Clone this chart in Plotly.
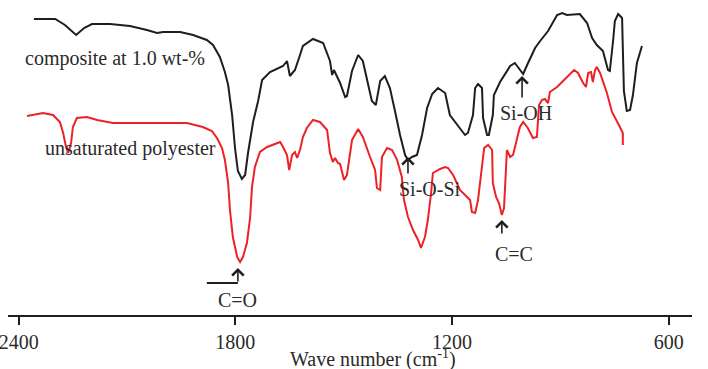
import plotly.graph_objects as go

# ---- data (wavenumber in cm-1, transmittance in arbitrary units) ----
comp_wn = [2358, 2299, 2272, 2241, 2219, 2197, 2147, 2092, 2045, 2017, 2000, 1953, 1917, 1879,
           1862, 1843, 1829, 1820, 1809, 1801, 1793, 1782, 1773, 1765, 1751, 1737, 1726, 1704,
           1668, 1657, 1649, 1635, 1621, 1613, 1585, 1557, 1538, 1532, 1527, 1510, 1496, 1491,
           1477, 1460, 1447, 1435, 1422, 1411, 1399, 1386, 1372, 1358, 1344, 1330, 1322, 1311,
           1297, 1283, 1269, 1255, 1239, 1219, 1206, 1183, 1164, 1156, 1142, 1136, 1128, 1117,
           1114, 1103, 1098, 1087, 1084, 1067, 1039, 1026, 1012, 1003, 992, 970, 956, 934, 909,
           895, 882, 846, 826, 812, 799, 782, 768, 763, 754, 749, 740, 729, 727, 724, 716, 707,
           699, 688, 674]
comp_t = [301, 301, 295, 285, 292, 296, 296, 294, 290, 287, 288, 288, 285, 280,
          275, 263, 248, 235, 205, 172, 149, 141, 145, 167, 198, 219, 240, 248,
          254, 259, 244, 250, 265, 274, 281, 277, 259, 245, 250, 237, 223, 224,
          249, 265, 259, 239, 219, 215, 239, 244, 232, 209, 185, 165, 160, 163,
          165, 185, 212, 226, 232, 227, 205, 194, 185, 187, 205, 232, 236, 232,
          202, 185, 185, 205, 225, 238, 254, 257, 250, 246, 255, 272, 279, 289, 305,
          307, 305, 306, 297, 282, 275, 269, 250, 249, 279, 299, 306, 302, 272, 229, 209, 210,
          225, 257, 274]

up_wn = [2377, 2333, 2305, 2286, 2277, 2269, 2263, 2255, 2250, 2239, 2211, 2183, 2139, 2045,
         1973, 1934, 1890, 1865, 1851, 1837, 1829, 1820, 1815, 1807, 1795, 1787, 1779, 1768,
         1759, 1754, 1746, 1732, 1712, 1685, 1676, 1668, 1657, 1651, 1643, 1635, 1629, 1621,
         1613, 1602, 1585, 1566, 1546, 1538, 1530, 1524, 1516, 1510, 1499, 1491, 1477, 1460,
         1447, 1427, 1413, 1408, 1399, 1394, 1380, 1366, 1352, 1339, 1333, 1322, 1308, 1294,
         1286, 1275, 1267, 1258, 1253, 1233, 1219, 1211, 1197, 1178, 1159, 1150, 1145, 1136,
         1128, 1117, 1111, 1100, 1089, 1087, 1078, 1070, 1062, 1056, 1053, 1048, 1039, 1031,
         1012, 1003, 990, 976, 965, 959, 951, 943, 934, 929, 909, 882, 862, 851, 837, 829,
         823, 815, 810, 804, 799, 790, 771, 757, 749, 735, 727, 727]
up_t = [204, 207, 205, 198, 187, 173, 167, 177, 193, 202, 203, 200, 197, 197,
        197, 197, 193, 189, 182, 172, 160, 137, 110, 83, 63, 58, 63, 77,
        103, 133, 153, 168, 173, 177, 178, 173, 165, 150, 165, 168, 162, 170,
        183, 192, 200, 198, 190, 167, 158, 162, 157, 156, 140, 145, 180, 191,
        183, 163, 150, 132, 130, 163, 172, 170, 160, 143, 120, 103, 90, 80,
        72, 83, 100, 127, 147, 151, 153, 152, 145, 130, 123, 120, 108, 107,
        120, 150, 172, 175, 170, 137, 123, 117, 105, 112, 135, 170, 163, 165,
        193, 198, 192, 182, 183, 215, 220, 221, 217, 228, 233, 243, 250, 247, 237, 233,
        247, 248, 238, 250, 253, 247, 227, 208, 203, 193, 187, 175]

tick_vals = [2400, 1800, 1200, 600]
tick_text = ["2400", "1800", "1200", "600"]

FONT = "Liberation Serif, Times New Roman, serif"
TXT = "#2a2a2a"

fig = go.Figure()
fig.add_trace(go.Scatter(x=comp_wn, y=comp_t, mode="lines",
                         line=dict(color="#1e1e1e", width=2), showlegend=False,
                         hoverinfo="skip"))
fig.add_trace(go.Scatter(x=up_wn, y=up_t, mode="lines",
                         line=dict(color="#ec2227", width=2), showlegend=False,
                         hoverinfo="skip"))

# labels
labels = [
    dict(x=2388, y=262, text="composite at 1.0 wt-%", xanchor="left"),
    dict(x=2333, y=172, text="unsaturated polyester", xanchor="left"),
    dict(x=1261, y=131, text="Si-O-Si", xanchor="center"),
    dict(x=994, y=207, text="Si-OH", xanchor="center"),
    dict(x=1027, y=66, text="C=C", xanchor="center"),
    dict(x=1794, y=20, text="C=O", xanchor="center"),
]
for L in labels:
    fig.add_annotation(x=L["x"], y=L["y"], text=L["text"], xanchor=L["xanchor"],
                       yanchor="middle", showarrow=False,
                       font=dict(family=FONT, size=20, color=TXT))

# arrows (tip at peak, tail below)
arrows = [(1322, 163, 18), (1006, 244, 23), (1062, 100, 15), (1793, 52, 15)]
for ax_, ay_, ln in arrows:
    fig.add_annotation(x=ax_, y=ay_, ax=0, ay=ln, text="", showarrow=True,
                       arrowhead=4, arrowsize=1.4, arrowwidth=1.6, arrowcolor="#1e1e1e")

fig.add_shape(type="line", x0=1879, x1=1793, y0=37, y1=37,
              line=dict(color="#1e1e1e", width=2))

fig.add_annotation(xref="paper", yref="paper", x=0.534, y=0, yshift=-43,
                   text="Wave number (cm<sup>-1</sup>)", showarrow=False,
                   xanchor="center", yanchor="middle",
                   font=dict(family=FONT, size=20, color=TXT))

fig.update_layout(
    width=708, height=369, autosize=False,
    margin=dict(l=8, r=16, t=0, b=54),
    paper_bgcolor="white", plot_bgcolor="white",
    hovermode=False,
    xaxis=dict(range=[2429.7, 535.4], showgrid=False, zeroline=False,
               showline=True, linecolor="#1e1e1e", linewidth=2,
               ticks="outside", ticklen=8, tickwidth=2, tickcolor="#1e1e1e",
               tickvals=tick_vals, ticktext=tick_text, ticklabeloverflow="allow",
               tickfont=dict(family=FONT, size=20, color=TXT)),
    yaxis=dict(range=[5, 320], visible=False),
)

fig.write_html("out.html", config={"displayModeBar": False},
               post_script="document.body.style.margin='0';document.body.style.overflow='hidden';")
